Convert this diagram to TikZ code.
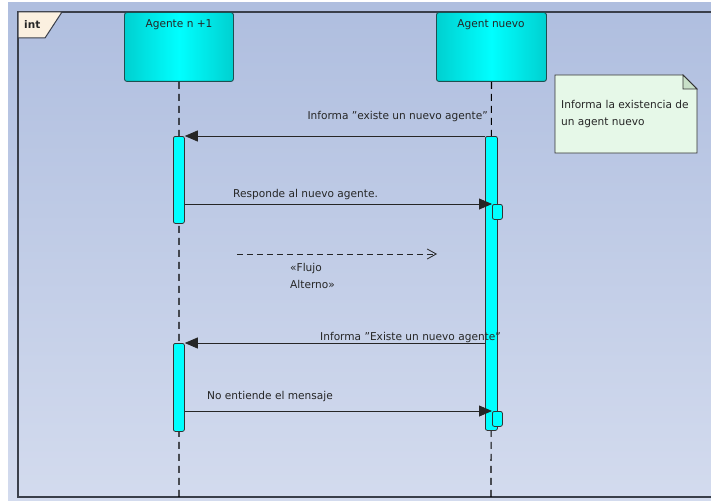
\documentclass[tikz,border=0pt]{standalone}
\usepackage{fontspec}
\setmainfont{DejaVu Sans}
\usetikzlibrary{arrows.meta,shapes.misc}
\definecolor{bgtop}{HTML}{AFBEDF}
\definecolor{bgbot}{HTML}{D3DBEE}
\definecolor{framecol}{HTML}{3A3F4A}
\definecolor{tabfill}{HTML}{FBF0E0}
\definecolor{cyanhi}{HTML}{00FFFF}
\definecolor{cyanlo}{HTML}{00D0D0}
\definecolor{cyanedge}{HTML}{1E4F50}
\definecolor{notefill}{HTML}{E6F8E8}
\definecolor{notefold}{HTML}{C8E0C8}
\newcommand\dq{\symbol{34}}
\tikzset{
  x=1pt, y=-1pt,
  lbl/.style={font=\fontsize{10.8}{17}\selectfont\addfontfeatures{FakeStretch=0.98}, inner sep=0pt, text=black!85},
  headbox/.style={draw=cyanedge, line width=0.9pt, rounded corners=2.5pt,
    left color=cyanlo, right color=cyanlo, middle color=cyanhi},
  actbar/.style={draw=black!80, line width=0.8pt, fill=cyanhi, rounded corners=2pt},
  lifeline/.style={draw=black, line width=1.1pt, dash pattern=on 7pt off 5pt},
  msg/.style={draw=black!85, line width=0.8pt, -{Triangle[length=13pt,width=11pt]}},
  altmsg/.style={draw=black!85, line width=0.8pt, dash pattern=on 6pt off 4pt, -{Straight Barb[length=9pt,width=10pt,line width=0.8pt]}},
}
\begin{document}
\begin{tikzpicture}
\useasboundingbox (0,0) rectangle (711,500);
% canvas background
\fill[white] (0,0) rectangle (711,500);
\shade[top color=bgtop, bottom color=bgbot] (8,3) rectangle (711,500);

% interaction frame
\draw[framecol, line width=1.3pt] (711,12) -- (18,12) -- (18,497) -- (711,497);
\draw[framecol, line width=1pt, fill=tabfill] (18,12) -- (62,12) -- (45,38) -- (18,38) -- cycle;
\node[lbl, font=\fontsize{10.5}{12}\bfseries\selectfont, anchor=west] (tab) at (24,25) {int};

% lifeline heads
\node[headbox, minimum width=109pt, minimum height=69pt, anchor=north west] (hA) at (124,12) {};
\node[lbl] (tA) at (179,25) {Agente n +1};
\node[headbox, minimum width=110pt, minimum height=69pt, anchor=north west] (hB) at (436,12) {};
\node[lbl] (tB) at (491,25) {Agent nuevo};

% lifelines
\coordinate (endA) at (179,497);
\coordinate (endB) at (491,497);
\draw[lifeline] (hA.south) -- (endA);
\draw[lifeline] (hB.south) -- (endB);

% note
\draw[black!80, line width=0.9pt, fill=notefill] (555,75) -- (683,75) -- (697,89) -- (697,153) -- (555,153) -- cycle;
\draw[black!80, line width=0.8pt, fill=notefold] (683,75) -- (683,89) -- (697,89) -- cycle;
\node[lbl, anchor=north west, align=left] (note) at (561,100) {Informa la existencia de\\un agent nuevo};

% activation bars
\node[actbar, minimum width=11pt, minimum height=87pt, inner sep=0pt, anchor=north west] (a1) at (173,136) {};
\node[actbar, minimum width=12pt, minimum height=294pt, inner sep=0pt, anchor=north west] (b1) at (485,136) {};
\node[actbar, minimum width=10pt, minimum height=15pt, inner sep=0pt, anchor=north west] (b2) at (492,204) {};
\node[actbar, minimum width=11pt, minimum height=88pt, inner sep=0pt, anchor=north west] (a2) at (173,343) {};
\node[actbar, minimum width=10pt, minimum height=15pt, inner sep=0pt, anchor=north west] (b3) at (492,411) {};

% messages
\draw[msg] (b1.west |- 0,136) -- (a1.east |- 0,136);
\node[lbl, anchor=base east] (m1) at (488,119) {Informa \dq existe un nuevo agente\dq};

\draw[msg] (a1.east |- 0,204) -- (b2.west |- 0,204);
\node[lbl, anchor=base west] (m2) at (233,197) {Responde al nuevo agente.};

\coordinate (altS) at (237,254);
\coordinate (altE) at (437,254);
\draw[altmsg] (altS) -- (altE);
\node[lbl, anchor=north west, align=left] (m3) at (290,263) {«Flujo\\Alterno»};

\draw[msg] (b1.west |- 0,343) -- (a2.east |- 0,343);
\node[lbl, anchor=base west] (m4) at (320,340) {Informa \dq Existe un nuevo agente\dq};

\draw[msg] (a2.east |- 0,411) -- (b3.west |- 0,411);
\node[lbl, anchor=base west] (m5) at (207,399) {No entiende el mensaje};
\end{tikzpicture}
\end{document}
